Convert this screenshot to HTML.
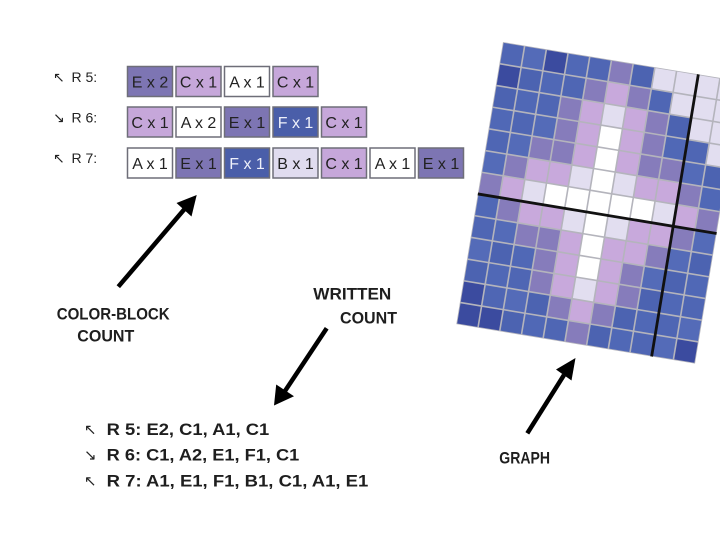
<!DOCTYPE html>
<html>
<head>
<meta charset="utf-8">
<style>
  html,body{margin:0;padding:0;background:#fff;}
  svg{display:block;}
  .lbl{font-family:"Liberation Sans","DejaVu Sans",sans-serif;font-size:14px;fill:#222;}
  .arr{font-family:"DejaVu Sans","Liberation Sans",sans-serif;fill:#222;}
  .blk{font-family:"Liberation Sans",sans-serif;font-size:16px;fill:#222;text-anchor:middle;}
  .cm{font-family:"Liberation Sans","DejaVu Sans",sans-serif;font-weight:bold;font-size:17px;fill:#1e1e1e;}
  .wc{font-family:"Liberation Sans","DejaVu Sans",sans-serif;font-weight:bold;font-size:17px;fill:#1e1e1e;}
</style>
</head>
<body>
<svg width="720" height="540" viewBox="0 0 720 540" xmlns="http://www.w3.org/2000/svg">
  <rect width="720" height="540" fill="#fff"/>

  <!-- Row labels -->
  <text class="arr" x="53" y="82" font-size="14">↖</text>
  <text class="lbl" x="71.5" y="82">R 5:</text>
  <text class="arr" x="53" y="122.5" font-size="14">↘</text>
  <text class="lbl" x="71.5" y="122.5">R 6:</text>
  <text class="arr" x="53" y="163" font-size="14">↖</text>
  <text class="lbl" x="71.5" y="163">R 7:</text>

  <!-- Color blocks -->
  <g stroke="#6e6e78" stroke-width="1.5">
    <rect x="127.5" y="66.5" width="45" height="30" fill="#7d75b3"/>
    <rect x="176" y="66.5" width="45" height="30" fill="#c6a7da"/>
    <rect x="224.5" y="66.5" width="45" height="30" fill="#ffffff"/>
    <rect x="273" y="66.5" width="45" height="30" fill="#c6a7da"/>

    <rect x="127.5" y="107" width="45" height="30" fill="#c6a7da"/>
    <rect x="176" y="107" width="45" height="30" fill="#ffffff"/>
    <rect x="224.5" y="107" width="45" height="30" fill="#7d75b3"/>
    <rect x="273" y="107" width="45" height="30" fill="#4a5ea9"/>
    <rect x="321.5" y="107" width="45" height="30" fill="#c6a7da"/>

    <rect x="127.5" y="148" width="45" height="30" fill="#ffffff"/>
    <rect x="176" y="148" width="45" height="30" fill="#7d75b3"/>
    <rect x="224.5" y="148" width="45" height="30" fill="#4a5ea9"/>
    <rect x="273" y="148" width="45" height="30" fill="#e0dcef"/>
    <rect x="321.5" y="148" width="45" height="30" fill="#c6a7da"/>
    <rect x="370" y="148" width="45" height="30" fill="#ffffff"/>
    <rect x="418.5" y="148" width="45" height="30" fill="#7d75b3"/>
  </g>
  <g class="blk">
    <text x="150" y="87.5">E x 2</text>
    <text x="198.5" y="87.5">C x 1</text>
    <text x="247" y="87.5">A x 1</text>
    <text x="295.5" y="87.5">C x 1</text>

    <text x="150" y="128">C x 1</text>
    <text x="198.5" y="128">A x 2</text>
    <text x="247" y="128">E x 1</text>
    <text x="295.5" y="128" style="fill:#eef0fa">F x 1</text>
    <text x="344" y="128">C x 1</text>

    <text x="150" y="169">A x 1</text>
    <text x="198.5" y="169">E x 1</text>
    <text x="247" y="169" style="fill:#eef0fa">F x 1</text>
    <text x="295.5" y="169">B x 1</text>
    <text x="344" y="169">C x 1</text>
    <text x="392.5" y="169">A x 1</text>
    <text x="441" y="169">E x 1</text>
  </g>

  <!-- Arrows -->
  <g stroke="#000" stroke-width="4.5" fill="none">
    <line x1="118.3" y1="286.7" x2="185" y2="208.5"/>
    <line x1="326.7" y1="328.3" x2="285" y2="391"/>
    <line x1="527.3" y1="433.3" x2="564" y2="375"/>
  </g>
  <g fill="#000">
    <polygon points="196.7,195 176.5,203 191.5,216.5"/>
    <polygon points="274,405.5 276.2,384.5 294,396.2"/>
    <polygon points="575.5,358 556,369.5 571.5,380.5"/>
  </g>

  <!-- Handwritten labels -->
  <text class="cm" x="56.7" y="319.3" textLength="113" lengthAdjust="spacingAndGlyphs">COLOR-BLOCK</text>
  <text class="cm" x="77.3" y="341.7" textLength="57" lengthAdjust="spacingAndGlyphs">COUNT</text>
  <text class="cm" x="313.3" y="299.3" textLength="78" lengthAdjust="spacingAndGlyphs">WRITTEN</text>
  <text class="cm" x="340" y="323.3" textLength="57" lengthAdjust="spacingAndGlyphs">COUNT</text>
  <text class="cm" x="499.3" y="463.3" font-size="16" textLength="50.7" lengthAdjust="spacingAndGlyphs">GRAPH</text>

  <!-- Written count -->
  <text class="arr" x="84" y="434.5" font-size="15">↖</text>
  <text class="wc" x="106.7" y="435" textLength="162.6" lengthAdjust="spacingAndGlyphs">R 5: E2, C1, A1, C1</text>
  <text class="arr" x="84" y="460" font-size="15">↘</text>
  <text class="wc" x="106.7" y="460.5" textLength="192.6" lengthAdjust="spacingAndGlyphs">R 6: C1, A2, E1, F1, C1</text>
  <text class="arr" x="84" y="486" font-size="15">↖</text>
  <text class="wc" x="106.7" y="486.5" textLength="261.6" lengthAdjust="spacingAndGlyphs">R 7: A1, E1, F1, B1, C1, A1, E1</text>

  <!-- Rotated graph -->
  <g transform="translate(503,42) rotate(9.4)">
    <rect x="0" y="0" width="242" height="286" fill="#b4b4bc"/>
    <g id="cells"></g>
    <line x1="198" y1="0" x2="198" y2="286" stroke="#111" stroke-width="2.8"/>
    <line x1="0" y1="154" x2="242" y2="154" stroke="#111" stroke-width="2.8"/>
  </g>
</svg>
<script>
(function(){
  var rows=[
    "FFGFFEFBBBB",
    "GFFFECEFBBB",
    "FFFECBCEFBB",
    "FFFECACEFFB",
    "FFEECACEEFF",
    "FECCBABCCEF",
    "ECBAAAAABCE",
    "FECCBABCCEF",
    "FFEECACCEFF",
    "FFFECACEFFF",
    "FFFECBCEFFF",
    "GFFFECEFFFF",
    "GGFFFEFFFFG"
  ];
  var col={F:"#4f66b4",G:"#3b4b9f",E:"#867cbb",C:"#c8a9dc",B:"#e2def0",A:"#ffffff"};
  var g=document.getElementById("cells");
  var ns="http://www.w3.org/2000/svg";
  var shades=["#4f66b4","#5068b6","#4c63b1","#546bb8"];
  for(var r=0;r<rows.length;r++){
    for(var c=0;c<11;c++){
      var k=rows[r][c];
      var f=col[k];
      if(k==="F"){f=shades[(r*7+c*3)%4];}
      var e=document.createElementNS(ns,"rect");
      e.setAttribute("x",22*c+0.8);
      e.setAttribute("y",22*r+0.8);
      e.setAttribute("width",20.4);
      e.setAttribute("height",20.4);
      e.setAttribute("fill",f);
      g.appendChild(e);
    }
  }
})();
</script>
</body>
</html>
